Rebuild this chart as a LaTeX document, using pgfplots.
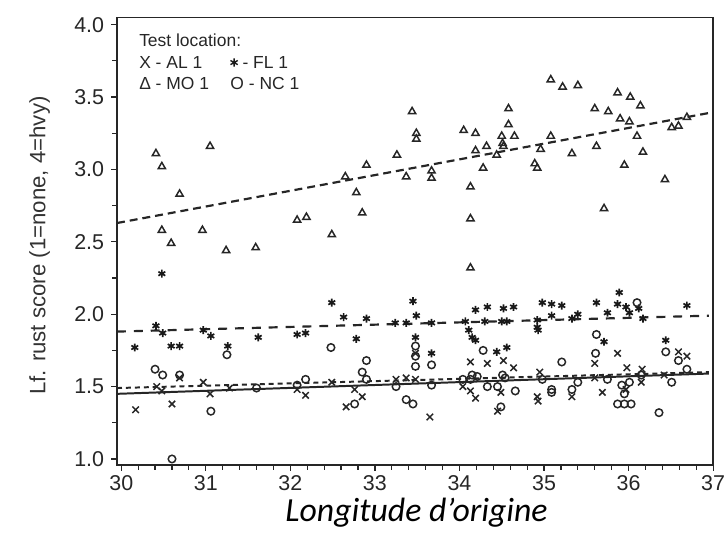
\documentclass[border=0pt]{standalone}
\usepackage{pgfplots}
\pgfplotsset{compat=1.18}
\usepackage{fontspec}
\setmainfont{Liberation Sans}
\newfontfamily\carlito{Carlito}
\begin{document}
\begin{tikzpicture}
\useasboundingbox (-59pt,-45pt) rectangle (307pt,234.3pt);
\begin{axis}[
  scale only axis, width=300.5pt, height=225.5pt,
  xmin=29.95, xmax=37.0, ymin=0.96, ymax=4.05,
  xtick={30,...,37}, ytick={1.0,1.5,...,4.0},
  minor x tick num=4, minor y tick num=1,
  tick align=outside, tick pos=left,
  major tick length=3pt, minor tick length=2.5pt,
  axis line style={line width=0.75pt, black!85},
  every tick/.style={black!85, line width=0.6pt},
  /pgf/number format/assume math mode=true,
  ticklabel style={font=\fontsize{10.8}{12}\selectfont, black!85},
  xticklabel style={yshift=1pt},
  yticklabel style={/pgf/number format/fixed, /pgf/number format/fixed zerofill, /pgf/number format/precision=1},
  ylabel={Lf. rust score (1=none, 4=hvy)},
  ylabel style={font=\fontsize{11.2}{13}\selectfont, black!80, at={(-39pt,110.5pt)}, anchor=center},
  clip=false,
]
% MO 1 (triangles)
\addplot[only marks, mark=triangle, mark size=2.1pt, black!85, line width=0.75pt] coordinates {
(30.41,3.11)(30.48,3.02)(30.69,2.83)(30.48,2.58)(30.59,2.49)(31.05,3.16)(30.96,2.58)(31.24,2.44)(31.59,2.46)
(32.08,2.65)(32.19,2.67)(32.49,2.55)(32.65,2.95)(32.78,2.84)(32.90,3.03)(32.85,2.70)(33.44,3.40)(33.49,3.25)
(33.49,3.21)(33.26,3.10)(33.37,2.95)(33.67,2.99)(33.67,2.94)(34.05,3.27)(34.19,3.25)(34.13,2.88)(34.13,2.66)
(34.13,2.32)(34.19,3.13)(34.32,3.16)(34.28,3.01)(34.44,3.10)(34.50,3.23)(34.51,3.18)(34.52,3.16)(34.58,3.42)
(34.58,3.31)(34.65,3.23)(34.89,3.04)(34.92,3.01)(34.96,3.14)(35.08,3.23)(35.08,3.62)(35.22,3.57)(35.40,3.58)
(35.33,3.11)(35.60,3.42)(35.62,3.16)(35.71,2.73)(35.76,3.40)(35.87,3.53)(35.90,3.35)(35.95,3.03)(36.01,3.33)
(36.02,3.50)(36.14,3.44)(36.10,3.23)(36.17,3.12)(36.43,2.93)(36.51,3.29)(36.59,3.30)(36.69,3.36)};
% FL 1 (asterisks)
\addplot[only marks, mark=asterisk, mark size=2pt, black!90, line width=0.85pt] coordinates {
(30.16,1.77)(30.41,1.92)(30.49,1.87)(30.48,2.28)(30.59,1.78)(30.69,1.78)(30.97,1.89)(31.06,1.85)(31.26,1.78)
(31.62,1.84)(32.08,1.86)(32.18,1.87)(32.49,2.08)(32.63,1.98)(32.78,1.83)(32.90,1.97)(33.24,1.94)(33.37,1.94)
(33.45,2.09)(33.49,1.99)(33.48,1.84)(33.67,1.94)(33.67,1.73)(34.07,1.95)(34.11,1.89)(34.15,1.84)(34.19,1.82)
(34.19,2.03)(34.33,2.05)(34.30,1.95)(34.52,2.04)(34.64,2.05)(34.50,1.95)(34.56,1.95)(34.44,1.74)(34.56,1.77)
(34.92,1.91)(34.93,1.89)(34.92,1.96)(34.98,2.08)(35.09,2.07)(35.21,2.06)(35.09,1.99)(35.33,1.97)(35.40,2.00)
(35.62,2.08)(35.71,1.81)(35.75,2.01)(35.87,2.07)(35.89,2.15)(35.97,2.05)(36.01,2.01)(36.12,2.04)(36.17,1.97)
(36.44,1.82)(36.69,2.06)};
% NC 1 (circles)
\addplot[only marks, mark=o, mark size=1.9pt, black!85, line width=0.75pt] coordinates {
(30.40,1.62)(30.49,1.58)(30.69,1.58)(31.06,1.33)(30.60,1.00)(31.25,1.72)(31.60,1.49)(32.08,1.51)(32.18,1.55)
(32.48,1.77)(32.76,1.38)(32.85,1.60)(32.90,1.68)(32.90,1.55)(33.25,1.50)(33.37,1.41)(33.45,1.38)(33.48,1.78)
(33.48,1.71)(33.48,1.64)(33.67,1.65)(33.67,1.51)(34.04,1.55)(34.15,1.58)(34.21,1.57)(34.13,1.55)(34.28,1.75)
(34.33,1.50)(34.45,1.50)(34.49,1.36)(34.51,1.58)(34.54,1.56)(34.66,1.47)(34.98,1.55)(35.09,1.48)(35.09,1.46)
(35.21,1.67)(35.33,1.48)(35.40,1.53)(35.62,1.86)(35.61,1.73)(35.75,1.55)(35.92,1.51)(35.95,1.45)(35.87,1.38)
(35.95,1.38)(36.03,1.38)(36.01,1.53)(36.10,2.08)(36.15,1.58)(36.36,1.32)(36.44,1.74)(36.51,1.53)(36.59,1.68)
(36.69,1.62)};
% AL 1 (crosses)
\addplot[only marks, mark=x, mark size=2.3pt, black!85, line width=0.75pt] coordinates {
(30.17,1.34)(30.60,1.38)(30.42,1.50)(30.48,1.47)(30.97,1.53)(31.05,1.45)(31.28,1.49)(30.69,1.56)(32.08,1.48)
(32.18,1.44)(32.49,1.53)(32.66,1.36)(32.76,1.48)(32.85,1.43)(33.25,1.55)(33.37,1.56)(33.48,1.55)(33.48,1.73)
(33.65,1.29)(34.04,1.50)(34.13,1.67)(34.33,1.66)(34.52,1.68)(34.64,1.63)(34.13,1.47)(34.19,1.42)(34.45,1.33)
(34.49,1.46)(34.92,1.43)(34.93,1.40)(34.95,1.60)(35.33,1.43)(35.60,1.66)(35.87,1.73)(35.69,1.46)(35.98,1.63)
(36.16,1.62)(36.15,1.53)(36.59,1.74)(36.69,1.71)(36.42,1.58)(35.60,1.56)(35.97,1.48)};
% regression lines
\addplot[black!85, line width=1.1pt, dash pattern=on 4pt off 2.5pt] coordinates {(29.95,2.63)(36.95,3.39)};
\addplot[black!85, line width=1.1pt, dash pattern=on 4.5pt off 4pt] coordinates {(29.95,1.88)(36.95,1.99)};
\addplot[black!85, line width=1.0pt, dash pattern=on 2.5pt off 2pt] coordinates {(29.95,1.49)(36.95,1.60)};
\addplot[black!85, line width=1.0pt] coordinates {(29.95,1.45)(36.95,1.59)};
\end{axis}
\begin{scope}[every node/.style={font=\fontsize{8.8}{10}\selectfont, black!85, inner sep=0pt, anchor=west}]
\node at (11pt,214pt) {Test location:};
\node at (11pt,203pt) {X - AL 1};
\node at (57pt,203pt) {\tikz[baseline=-0.6ex]\draw[line width=0.7pt, black!90] plot[mark=asterisk, mark size=2.1pt] coordinates {(0,0)};\ - FL 1};
\node at (11pt,192pt) {Δ - MO 1};
\node at (57pt,192pt) {O - NC 1};
\end{scope}
\node[font=\carlito\itshape\fontsize{17}{20}\selectfont, anchor=center] at (151pt,-24pt) {Longitude d’origine};
\end{tikzpicture}
\end{document}
